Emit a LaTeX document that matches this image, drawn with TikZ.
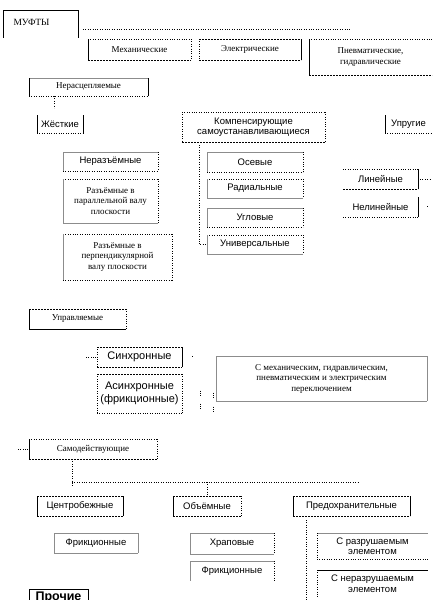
\documentclass[tikz,border=0pt]{standalone}
\usepackage{fontspec}
\setmainfont{Liberation Serif}
\newfontfamily\sansf{Liberation Sans}
\tikzset{
 sideS/.style={draw=black, line width=0.6pt},
 sideD/.style={draw=black, line width=0.5pt, dash pattern=on 2pt off 1pt},
 sideT/.style={draw=black, line width=0.6pt, dash pattern=on 0.6pt off 1.8pt},
 sideL/.style={draw=black!45, line width=0.5pt},
 sideN/.style={draw=none},
 conn/.style={draw=black, line width=0.6pt, dash pattern=on 0.6pt off 1.8pt},
 serif/.style={font=\fontsize{9}{10.5}\selectfont, align=center},
 sans/.style={font=\sansf\fontsize{9.5}{10.5}\selectfont, align=center},
 sansbig/.style={font=\sansf\fontsize{11}{13}\selectfont, align=center},
 bxbase/.style={inner sep=0pt, outer sep=0pt, draw=none},
}
\newcommand\bx[7]{\node[bxbase,#6, minimum width={#4-#2}, minimum height={#5-#3}] (#1) at ({(#2+#4)/2},{(#3+#5)/2}) {#7};}
\newcommand\sides[5]{%
 \path[side#2] (#1.north west) -- (#1.north east);
 \path[side#3] (#1.north east) -- (#1.south east);
 \path[side#4] (#1.south west) -- (#1.south east);
 \path[side#5] (#1.north west) -- (#1.south west);}
\begin{document}
\begin{tikzpicture}[x=1pt,y=-1pt]
\useasboundingbox (0,0) rectangle (436,600);
% top
\bx{muf}{3}{10}{78}{38}{serif}{}
\node[serif, font=\fontsize{9.5}{11}\selectfont, anchor=west] (muftxt) at (10,22) {МУФТЫ};
\path[sideS] (muf.north west) -- (muf.north east);
\path[sideS] (muf.north east) -- (muf.south east);
\path[sideS, line width=1pt] (muf.north west) -- (muf.south west);
\coordinate (m1) at (350,29);
\draw[conn] (83,29) -- (m1);
\bx{meh}{88}{39}{191}{60}{serif}{Механические}\sides{meh}{T}{T}{D}{S}
\bx{el}{199}{39}{301}{60}{serif}{Электрические}\sides{el}{D}{S}{D}{T}
\bx{pn}{309}{39}{432}{75}{serif}{Пневматические,\\гидравлические}\sides{pn}{T}{N}{D}{S}
% non-disengageable
\bx{ner}{29}{78}{148}{96}{serif}{Нерасцепляемые}\sides{ner}{L}{S}{T}{S}
\coordinate (n1) at (54,108);
\draw[conn] (n1|-ner.south) -- (n1);
\bx{zh}{37}{115}{83}{133}{sans}{Жёсткие}\sides{zh}{N}{S}{T}{S}
\bx{komp}{182}{112}{325}{142}{sans}{Компенсирующие\\самоустанавливающиеся}\sides{komp}{T}{T}{D}{T}
\bx{upr}{385}{115}{432}{133}{sans}{Упругие}\sides{upr}{N}{N}{T}{S}
\bx{neraz}{63}{152}{158}{171}{sans}{Неразъёмные}\sides{neraz}{L}{T}{T}{L}
\bx{rpar}{63}{179}{158}{223}{serif}{Разъёмные в\\параллельной валу\\плоскости}\sides{rpar}{T}{T}{L}{L}
\bx{rperp}{63}{234}{172}{280}{serif}{Разъёмные в\\перпендикулярной\\валу плоскости}\sides{rperp}{T}{T}{T}{L}
\bx{os}{207}{152}{303}{172}{sans}{Осевые}\sides{os}{L}{T}{T}{L}
\bx{rad}{207}{179}{303}{198}{sans}{Радиальные}\sides{rad}{T}{T}{L}{L}
\bx{ugl}{207}{208}{303}{227}{sans}{Угловые}\sides{ugl}{L}{T}{T}{L}
\bx{univ}{207}{235}{303}{254}{sans}{Универсальные}\sides{univ}{T}{T}{L}{L}
\coordinate (k1) at (199,145);
\draw[conn] (k1) |- (univ.west);
\bx{lin}{343}{169}{418}{189}{sans}{Линейные}\sides{lin}{T}{S}{D}{N}
\bx{nelin}{343}{197}{418}{217}{sans}{Нелинейные}\sides{nelin}{N}{S}{T}{N}
\draw[conn] (lin.east) ++(2,0) -- ++(10,0);
\draw[conn] (nelin.east) ++(9,-1) -- ++(0,2);
% controlled
\bx{upravl}{29}{309}{126}{329}{serif}{Управляемые}\sides{upravl}{D}{T}{S}{S}
\bx{sinh}{97}{347}{182}{367}{sansbig}{Синхронные}\sides{sinh}{D}{S}{D}{T}
\bx{asinh}{97}{374}{182}{413}{sansbig}{Асинхронные\\(фрикционные)}\sides{asinh}{D}{T}{T}{T}
\bx{smeh}{216}{356}{427}{401}{serif}{С механическим, гидравлическим,\\пневматическим и электрическим\\переключением}\sides{smeh}{L}{L}{L}{L}
\draw[conn] (sinh.west) ++(-1,0) -- ++(-11,0);
\draw[conn] (sinh.east) ++(10,-1) -- ++(0,2);
\draw[conn] (smeh.west) ++(-16,12) -- ++(0,5);
\draw[conn] (smeh.west) ++(-16,25) -- ++(0,5);
\draw[conn] (smeh.west) ++(-3,14) -- ++(0,5);
\draw[conn] (smeh.west) ++(-3,28) -- ++(0,5);
% self-acting
\bx{samo}{29}{439}{157}{459}{serif}{Самодействующие}\sides{samo}{T}{T}{D}{S}
\draw[conn] (samo.west) ++(-1,0) -- ++(-10,0);
\bx{centr}{37}{496}{123}{516}{sans}{Центробежные}\sides{centr}{D}{S}{D}{S}
\bx{obem}{173}{496}{241}{516}{sans}{Объёмные}\sides{obem}{D}{T}{D}{S}
\bx{pred}{293}{496}{410}{516}{sans}{Предохранительные}\sides{pred}{D}{S}{D}{S}
\coordinate (s1) at (72,487);
\coordinate (s2) at (358,482);
\coordinate (s3) at (207,482);
\draw[conn] (s1|-samo.south) -- (s1);
\draw[conn] (72,482) -- (s2);
\draw[conn] (s3) -- (s3|-obem.north);
\bx{fr1}{54}{533}{138}{553}{sans}{Фрикционные}\sides{fr1}{L}{L}{L}{L}
\bx{hrap}{190}{533}{274}{554}{sans}{Храповые}\sides{hrap}{L}{T}{L}{L}
\bx{fr2}{190}{561}{274}{581}{sans}{Фрикционные}\sides{fr2}{L}{T}{N}{L}
\bx{sraz}{317}{533}{428}{559}{sans}{С разрушаемым\\элементом}\sides{sraz}{L}{N}{T}{T}
\bx{snraz}{317}{570}{428}{597}{sans}{С неразрушаемым\\элементом}\sides{snraz}{S}{N}{N}{T}
\coordinate (p1) at (306,600);
\draw[conn] (p1|-pred.south) ++(0,4) -- (p1);
\bx{proch}{29}{589}{88}{606}{sans}{\bfseries\fontsize{12.5}{14}\selectfont Прочие}\sides{proch}{S}{S}{S}{S}
\end{tikzpicture}
\end{document}
